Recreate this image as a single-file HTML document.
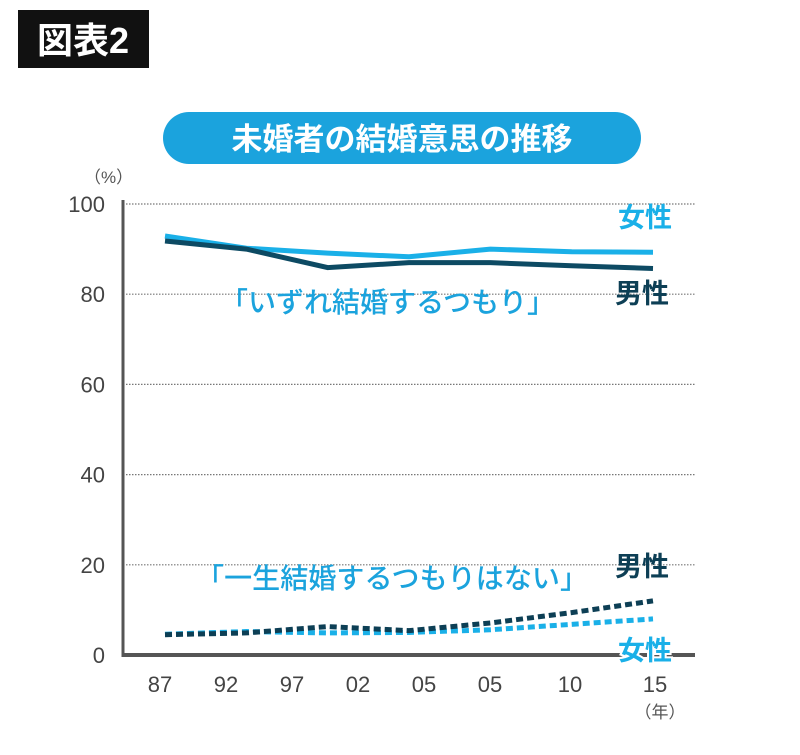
<!DOCTYPE html>
<html><head><meta charset="utf-8"><style>
body{margin:0;background:#fff;width:800px;height:750px;overflow:hidden;font-family:"Liberation Sans","Noto Sans CJK JP",sans-serif}
</style></head><body>
<svg width="800" height="750" font-family="'Liberation Sans','Noto Sans CJK JP',sans-serif">
<rect x="18" y="10" width="131" height="58" fill="#111"/>
<text x="83" y="53" fill="#fff" font-size="36" font-weight="bold" text-anchor="middle">図表2</text>
<rect x="163" y="112" width="478" height="52" rx="26" fill="#1ba3dd"/>
<text x="402" y="150" fill="#fff" font-size="31" font-weight="bold" text-anchor="middle">未婚者の結婚意思の推移</text>
<text x="84" y="183" fill="#555" font-size="17">（%）</text>
<g id="grid"></g>
<g id="marks"></g>
<line x1="123" y1="200" x2="123" y2="657" stroke="#555" stroke-width="3"/>
<line x1="122" y1="655" x2="695" y2="655" stroke="#555" stroke-width="4"/>
<g font-size="22" fill="#444" text-anchor="middle">
<text x="160" y="692">87</text><text x="226" y="692">92</text><text x="292" y="692">97</text><text x="358" y="692">02</text><text x="424" y="692">05</text><text x="490" y="692">05</text><text x="570" y="692">10</text><text x="655" y="692">15</text>
</g>
<text x="660" y="718" font-size="17" fill="#555" text-anchor="middle">（年）</text>
<text x="220" y="312" font-size="28" font-weight="500" fill="#1ba3dd" textLength="335">「いずれ結婚するつもり」</text>
<text x="196" y="588" font-size="28" font-weight="500" fill="#1ba3dd" textLength="392">「一生結婚するつもりはない」</text>
<text x="645" y="227" font-size="27" font-weight="bold" fill="#1ab0e8" text-anchor="middle">女性</text>
<text x="642" y="303" font-size="27" font-weight="bold" fill="#0d3f55" text-anchor="middle">男性</text>
<text x="642" y="576" font-size="27" font-weight="bold" fill="#0d3f55" text-anchor="middle">男性</text>
<text x="645" y="660" font-size="27" font-weight="bold" fill="#1ab0e8" text-anchor="middle" stroke="#fff" stroke-width="4" paint-order="stroke">女性</text>
</svg>
<script>
const years=['87','92','97','02','05','10','15'];
const maleSomeday=[91.8,90.0,85.9,87.0,87.0,86.3,85.7];
const femaleSomeday=[92.9,90.2,89.1,88.3,90.0,89.4,89.3];
const maleNever=[4.5,4.9,6.3,5.4,7.1,9.4,12.0];
const femaleNever=[4.6,5.2,4.9,5.0,5.6,6.8,8.0];
const yTicks=[0,20,40,60,80,100];
const NS='http://www.w3.org/2000/svg';
function y(v){return 655-v*4.51;}
function x(i){return 165+i*(653-165)/(years.length-1);}
const grid=document.getElementById('grid');
yTicks.forEach(t=>{
  if(t>0){const l=document.createElementNS(NS,'line');
  l.setAttribute('x1',123);l.setAttribute('x2',695);l.setAttribute('y1',y(t));l.setAttribute('y2',y(t));
  l.setAttribute('stroke','#777');l.setAttribute('stroke-width','1.2');l.setAttribute('stroke-dasharray','1.5 1.5');
  
  
  grid.appendChild(l);}
  const tx=document.createElementNS(NS,'text');
  tx.setAttribute('x',105);tx.setAttribute('y',y(t)+8);tx.setAttribute('text-anchor','end');
  tx.setAttribute('font-size','22');tx.setAttribute('fill','#444');tx.textContent=t;
  
  
  grid.appendChild(tx);
});
const marks=document.getElementById('marks');
function line(vals,color,dash,name){
  const p=document.createElementNS(NS,'polyline');
  p.setAttribute('points',vals.map((v,i)=>x(i)+','+y(v)).join(' '));
  p.setAttribute('fill','none');p.setAttribute('stroke',color);p.setAttribute('stroke-width','5');
  if(dash)p.setAttribute('stroke-dasharray',dash);
  
  
  marks.appendChild(p);
}
line(femaleSomeday,'#1ab0e8',null,'line-female-someday');
line(maleSomeday,'#0d4a63',null,'line-male-someday');
line(femaleNever,'#1ab0e8','7 4','line-female-never');
line(maleNever,'#0d3f55','7 4','line-male-never');
</script>
</body></html>
